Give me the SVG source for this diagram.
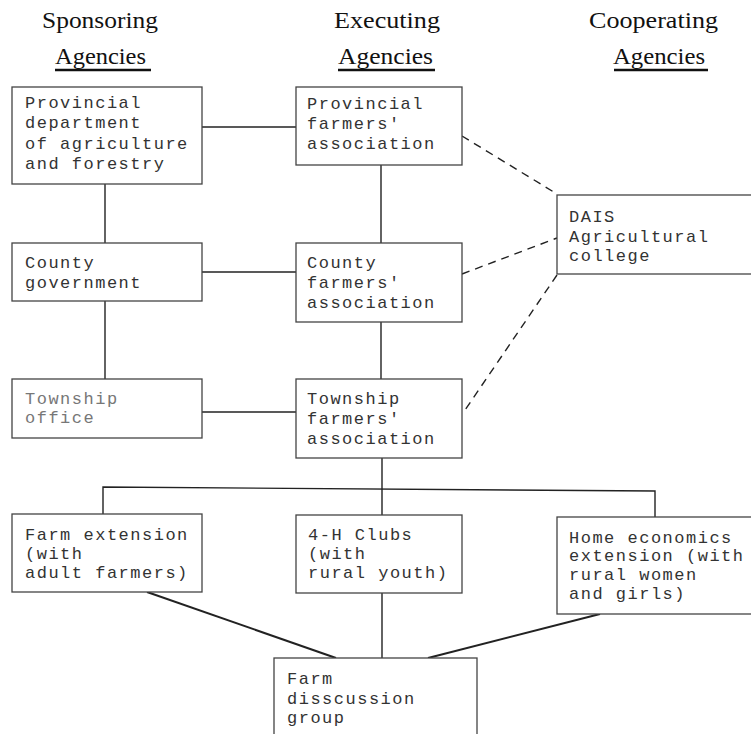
<svg xmlns="http://www.w3.org/2000/svg" width="751" height="734" viewBox="0 0 751 734">
<style>
.hd{font-family:"Liberation Serif","Times New Roman",serif;font-size:23px;fill:#111}
.ul{stroke:#111;stroke-width:2.5}
.box{fill:#fff;stroke:#444;stroke-width:1.3}
.t{font-family:"Liberation Mono","Courier New",monospace;font-size:17px;letter-spacing:1.5px;fill:#333}
.faint{fill:#777}
.ln{stroke:#222;stroke-width:1.4;fill:none}
.thk{stroke:#222;stroke-width:2;fill:none}
.ds{stroke:#222;stroke-width:1.4;fill:none;stroke-dasharray:8 6}
</style>
<rect width="751" height="734" fill="#fff"/>
<g id="headers">
<text class="hd" x="42" y="28" textLength="116" lengthAdjust="spacingAndGlyphs">Sponsoring</text>
<text class="hd" x="55" y="64" textLength="91" lengthAdjust="spacingAndGlyphs">Agencies</text>
<line class="ul" x1="55" y1="70" x2="151" y2="70"/>
<text class="hd" x="334" y="28" textLength="106" lengthAdjust="spacingAndGlyphs">Executing</text>
<text class="hd" x="338" y="64" textLength="95" lengthAdjust="spacingAndGlyphs">Agencies</text>
<line class="ul" x1="338" y1="70" x2="435" y2="70"/>
<text class="hd" x="589" y="28" textLength="129" lengthAdjust="spacingAndGlyphs">Cooperating</text>
<text class="hd" x="613" y="64" textLength="92" lengthAdjust="spacingAndGlyphs">Agencies</text>
<line class="ul" x1="614" y1="70" x2="708" y2="70"/>
</g>
<g id="connectors">
<line class="ln" x1="202" y1="127" x2="296" y2="127"/>
<line class="ln" x1="105" y1="184" x2="105" y2="243"/>
<line class="ln" x1="381" y1="165" x2="381" y2="243"/>
<line class="ln" x1="202" y1="272" x2="296" y2="272"/>
<line class="ln" x1="105" y1="301" x2="105" y2="379"/>
<line class="ln" x1="381" y1="322" x2="381" y2="379"/>
<line class="ln" x1="202" y1="412" x2="296" y2="412"/>
<line class="ds" x1="462" y1="136" x2="557" y2="194"/>
<line class="ds" x1="462" y1="274" x2="557" y2="238"/>
<line class="ds" x1="557" y1="275" x2="463" y2="413"/>
<line class="ln" x1="382" y1="458" x2="382" y2="515"/>
<polyline class="ln" points="103,514 103,487 655,491 655,517"/>
<line class="thk" x1="147" y1="592" x2="336" y2="658"/>
<line class="ln" x1="382" y1="593" x2="382" y2="658"/>
<line class="thk" x1="600" y1="614" x2="428" y2="658"/>
</g>
<g id="prov-dept">
<rect class="box" x="12" y="87" width="190" height="97"/>
<text class="t" x="25" y="108">Provincial</text>
<text class="t" x="25" y="128">department</text>
<text class="t" x="25" y="149">of agriculture</text>
<text class="t" x="25" y="169">and forestry</text>
</g>
<g id="prov-fa">
<rect class="box" x="296" y="87" width="166" height="78"/>
<text class="t" x="307" y="109">Provincial</text>
<text class="t" x="307" y="129">farmers'</text>
<text class="t" x="307" y="149">association</text>
</g>
<g id="dais">
<rect class="box" x="557" y="195" width="205" height="79"/>
<text class="t" x="569" y="222">DAIS</text>
<text class="t" x="569" y="242">Agricultural</text>
<text class="t" x="569" y="261">college</text>
</g>
<g id="county-gov">
<rect class="box" x="12" y="243" width="190" height="58"/>
<text class="t" x="25" y="268">County</text>
<text class="t" x="25" y="288">government</text>
</g>
<g id="county-fa">
<rect class="box" x="296" y="243" width="166" height="79"/>
<text class="t" x="307" y="268">County</text>
<text class="t" x="307" y="288">farmers'</text>
<text class="t" x="307" y="308">association</text>
</g>
<g id="township-office">
<rect class="box" x="12" y="379" width="190" height="59"/>
<text class="t faint" x="25" y="404">Township</text>
<text class="t faint" x="25" y="423">office</text>
</g>
<g id="township-fa">
<rect class="box" x="296" y="379" width="166" height="79"/>
<text class="t" x="307" y="404">Township</text>
<text class="t" x="307" y="424">farmers'</text>
<text class="t" x="307" y="444">association</text>
</g>
<g id="farm-ext">
<rect class="box" x="12" y="514" width="190" height="78"/>
<text class="t" x="25" y="540">Farm extension</text>
<text class="t" x="25" y="559">(with</text>
<text class="t" x="25" y="578">adult farmers)</text>
</g>
<g id="clubs-4h">
<rect class="box" x="296" y="515" width="166" height="78"/>
<text class="t" x="308" y="540">4-H Clubs</text>
<text class="t" x="308" y="559">(with</text>
<text class="t" x="308" y="578">rural youth)</text>
</g>
<g id="home-econ">
<rect class="box" x="557" y="517" width="205" height="97"/>
<text class="t" x="569" y="543">Home economics</text>
<text class="t" x="569" y="561">extension (with</text>
<text class="t" x="569" y="580">rural women</text>
<text class="t" x="569" y="599">and girls)</text>
</g>
<g id="discussion">
<rect class="box" x="274" y="658" width="203" height="90"/>
<text class="t" x="287" y="684">Farm</text>
<text class="t" x="287" y="704">disscussion</text>
<text class="t" x="287" y="723">group</text>
</g>
</svg>
